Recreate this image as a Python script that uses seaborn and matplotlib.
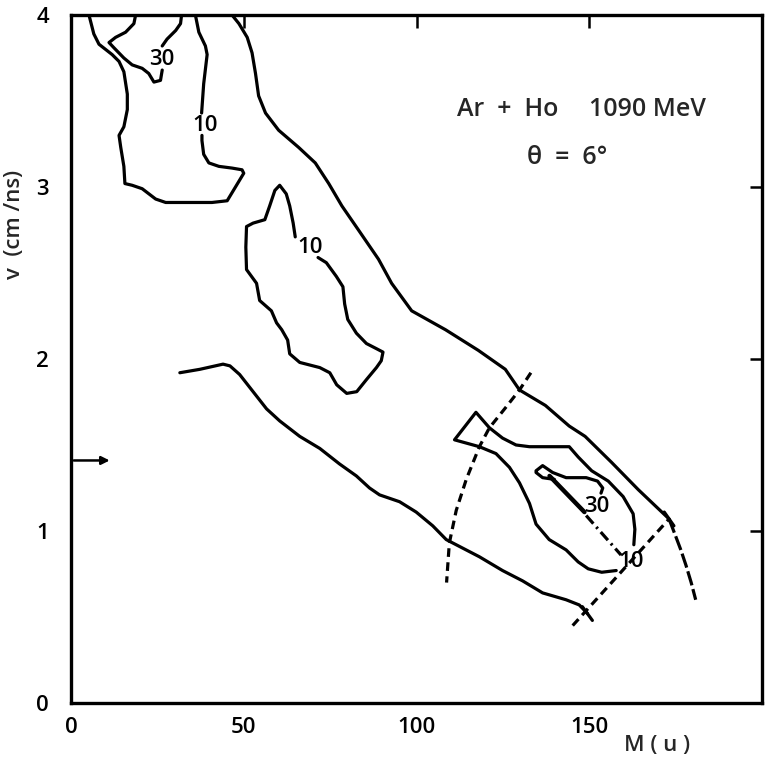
"""Ar + Ho 1090 MeV, theta = 6 deg: M-v contour map redrawn with seaborn."""

import matplotlib

matplotlib.use("Agg")
import matplotlib.pyplot as plt
import pandas as pd
import seaborn as sns

# contour lines as (M [u], v [cm/ns]); lines are cut where a level label sits
UPPER_1 = [
    (46.6, 4.00), (48.6, 3.95), (51.0, 3.87), (52.4, 3.78), (53.4, 3.66),
    (54.3, 3.53), (56.3, 3.43), (60.1, 3.33), (65.9, 3.23), (70.7, 3.14),
    (74.6, 3.02), (78.4, 2.89), (83.2, 2.75), (89.0, 2.58), (92.8, 2.44),
    (98.6, 2.28), (108.4, 2.17), (117.9, 2.05), (125.7, 1.94), (129.8, 1.82),
    (137.3, 1.73), (144.2, 1.61), (148.8, 1.55), (156.4, 1.40), (164.2, 1.24),
    (173.1, 1.07),
]
LOWER_1 = [
    (31.5, 1.92), (37.3, 1.94), (44.0, 1.97), (46.0, 1.96), (48.8, 1.91),
    (52.7, 1.81), (56.6, 1.71), (60.4, 1.64), (66.2, 1.55), (72.0, 1.48),
    (77.7, 1.39), (82.6, 1.32), (86.4, 1.25), (89.3, 1.21), (95.1, 1.17),
    (99.9, 1.11), (104.7, 1.03), (108.6, 0.95), (113.4, 0.90), (118.2, 0.85),
    (124.9, 0.77), (130.7, 0.71), (136.5, 0.64), (143.3, 0.60), (147.1, 0.57),
    (149.5, 0.52),
]
TOP_30_A = [
    (18.7, 4.00), (18.2, 3.95), (15.8, 3.90), (12.9, 3.87), (11.0, 3.84),
    (12.4, 3.81), (15.3, 3.75), (17.7, 3.71), (20.6, 3.69), (22.5, 3.66),
    (24.0, 3.61), (25.9, 3.62), (26.4, 3.68),
]
TOP_30_B = [(26.4, 3.82), (27.8, 3.86), (30.3, 3.91), (31.7, 3.95), (32.0, 4.00)]
TOP_10_A = [(36.0, 4.00), (37.0, 3.90), (38.9, 3.82), (39.4, 3.77), (38.4, 3.60), (37.8, 3.43)]
TOP_10_B = [
    (37.9, 3.30), (37.9, 3.27), (38.4, 3.19), (39.9, 3.14), (42.8, 3.12),
    (46.6, 3.11), (49.5, 3.10), (50.0, 3.08), (47.6, 3.00), (45.2, 2.92),
    (40.8, 2.91), (33.1, 2.91), (27.4, 2.91), (24.5, 2.93), (20.6, 2.99),
    (17.7, 3.01), (15.6, 3.02), (15.3, 3.12), (14.4, 3.23), (13.9, 3.30),
    (15.3, 3.35), (16.3, 3.45), (16.3, 3.54), (15.3, 3.67), (13.9, 3.73),
    (11.9, 3.77), (8.1, 3.83), (6.6, 3.89), (5.2, 4.00),
]
MID_10 = [
    (71.5, 2.59), (73.9, 2.56), (76.8, 2.48), (78.7, 2.42), (79.2, 2.32),
    (80.1, 2.23), (82.6, 2.15), (85.5, 2.09), (88.4, 2.06), (90.3, 2.04),
    (89.8, 1.99), (88.4, 1.95), (85.5, 1.88), (82.7, 1.81), (79.8, 1.80),
    (76.9, 1.85), (74.9, 1.92), (72.0, 1.95), (66.2, 1.98), (63.3, 2.03),
    (62.7, 2.11), (61.0, 2.17), (59.5, 2.21), (58.0, 2.28), (54.6, 2.34),
    (53.7, 2.44), (50.8, 2.52), (50.6, 2.65), (50.8, 2.77), (52.7, 2.79),
    (56.1, 2.81), (57.5, 2.89), (59.0, 2.98), (60.4, 3.01), (62.3, 2.96),
    (63.3, 2.89), (64.3, 2.79), (64.9, 2.71),
]
RIGHT_10 = [
    (157.8, 0.77), (153.6, 0.76), (149.7, 0.78), (146.8, 0.82), (143.3, 0.89),
    (138.4, 0.95), (134.6, 1.04), (132.7, 1.16), (129.8, 1.28), (126.9, 1.37),
    (123.0, 1.45), (118.2, 1.49), (111.0, 1.53), (117.2, 1.69), (121.1, 1.60),
    (124.9, 1.54), (128.8, 1.50), (132.7, 1.49), (137.5, 1.49), (144.2, 1.49),
    (146.8, 1.43), (150.7, 1.35), (155.5, 1.29), (159.8, 1.20), (162.7, 1.10),
    (163.2, 1.01), (162.9, 0.92),
]
INNER_30 = [
    (139.9, 1.30), (136.5, 1.31), (134.6, 1.34), (134.6, 1.35), (136.5, 1.38),
    (139.4, 1.34), (143.3, 1.31), (149.1, 1.31), (152.4, 1.29), (153.9, 1.25),
    (153.4, 1.22),
]
RIDGE_SOLID = [(138.5, 1.32), (148.6, 1.11)]
RIDGE_DASHDOT = [(149.1, 1.09), (159.2, 0.86)]

# kinematic construction lines
ARC_LEFT = [
    (133.1, 1.92), (129.8, 1.82), (125.9, 1.72), (121.1, 1.60), (118.2, 1.49),
    (114.4, 1.30), (111.5, 1.12), (109.5, 0.93), (108.7, 0.70),
]
ARC_RIGHT = [(173.1, 1.07), (175.0, 0.97), (176.5, 0.89), (178.0, 0.80), (179.5, 0.70), (180.8, 0.60)]
CHORD = [(145.2, 0.45), (173.1, 1.07)]
CHORD_TICK_LOW = [(148.0, 0.56), (150.9, 0.48)]
CHORD_TICK_HIGH = [(171.7, 1.11), (174.5, 1.03)]

LEVEL_LABELS = ["30", "10", "10", "30", "10"]
LABEL_M = [26.2, 38.7, 69.1, 152.3, 162.0]
LABEL_V = [3.74, 3.36, 2.65, 1.14, 0.82]

ARROW_M = (0, 12)
ARROW_V = 1.41

X_TICKS = [0, 50, 100, 150]
Y_TICKS = [0, 1, 2, 3, 4]

LW = 2.3


def to_frame(segments: dict) -> pd.DataFrame:
    rows = []
    for name, pts in segments.items():
        for i, (m, v) in enumerate(pts):
            rows.append({"seg": name, "i": i, "M": m, "v": v})
    return pd.DataFrame(rows)


def draw(ax, segments: dict, **kws) -> None:
    sns.lineplot(
        data=to_frame(segments), x="M", y="v", units="seg",
        estimator=None, sort=False, color="black", ax=ax, **kws,
    )


sns.set_theme(style="white")
plt.rcParams["font.family"] = ["Open Sans", "DejaVu Sans"]
plt.rcParams["font.weight"] = "semibold"
plt.rcParams["axes.labelweight"] = "semibold"

fig = plt.figure(figsize=(7.66, 7.58), dpi=100)
ax = fig.add_axes([0.0927, 0.0726, 0.9021, 0.9076])

draw(ax, {
    "upper_1": UPPER_1, "lower_1": LOWER_1,
    "top_30_a": TOP_30_A, "top_30_b": TOP_30_B,
    "top_10_a": TOP_10_A, "top_10_b": TOP_10_B,
    "mid_10": MID_10, "right_10": RIGHT_10, "inner_30": INNER_30,
    "tick_lo": CHORD_TICK_LOW, "tick_hi": CHORD_TICK_HIGH,
}, linewidth=LW)
draw(ax, {"ridge": RIDGE_SOLID}, linewidth=3.2)
draw(ax, {"ridge_dd": RIDGE_DASHDOT}, linewidth=LW, linestyle=(0, (3.4, 1.4, 0.7, 1.4)))
draw(ax, {"arc_left": ARC_LEFT, "chord": CHORD}, linewidth=LW, linestyle=(0, (2.7, 1.7)))
draw(ax, {"arc_right": ARC_RIGHT}, linewidth=LW, linestyle=(0, (4.6, 1.2)))

for txt, m, v in zip(LEVEL_LABELS, LABEL_M, LABEL_V):
    ax.text(m, v, txt, ha="center", va="center", fontsize=16, color="black")

ax.annotate(
    "", xy=(ARROW_M[1], ARROW_V), xytext=(ARROW_M[0], ARROW_V),
    arrowprops=dict(arrowstyle="-|>", color="black", lw=1.8, mutation_scale=12),
)

ax.text(111.6, 3.45, "Ar  +  Ho", ha="left", va="center", fontsize=18)
ax.text(150.0, 3.45, "1090 MeV", ha="left", va="center", fontsize=18)
ax.text(143.6, 3.17, "\u03b8  =  6\u00b0", ha="center", va="center", fontsize=18)

ax.set_xlim(0, 200)
ax.set_ylim(0, 4)
ax.set_xticks(X_TICKS)
ax.set_yticks(Y_TICKS)
ax.tick_params(direction="in", length=9, width=1.8, top=True, right=True,
               labelsize=16, colors="black")
ax.tick_params(axis="x", pad=10)
ax.tick_params(axis="y", pad=16)
for spine in ax.spines.values():
    spine.set_linewidth(2.4)
    spine.set_color("black")

ax.set_xlabel("M ( u )", fontsize=16, fontweight="semibold")
ax.set_ylabel("v  (cm /ns)", fontsize=16, fontweight="semibold")
ax.xaxis.set_label_coords(0.848, -0.046)
ax.yaxis.set_label_coords(-0.067, 0.695)

fig.savefig("out.png", dpi=100)
plt.close(fig)
